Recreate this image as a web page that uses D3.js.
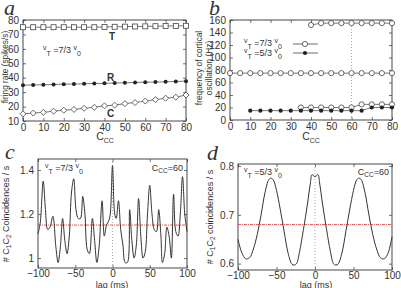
<!DOCTYPE html>
<html><head><meta charset="utf-8">
<script src="https://cdn.jsdelivr.net/npm/d3@7"></script>
<style>body{margin:0;background:#fff}svg{display:block}text{font-family:"Liberation Sans",Arial,sans-serif;fill:#333}</style>
</head><body><svg id="c" width="401" height="288"></svg>
<script>
// ---------- DATA ----------
const cccA = [0,5,10,15,20,25,30,35,40,45,50,55,60,65,70,75,80];
const rateT = [75,75,75,75,75,75,75,75,75.2,75.3,75.4,75.5,75.6,75.7,75.8,75.9,76];
const rateR = [34.8,35,35.1,35.3,35.5,35.6,35.8,36,36.1,36.3,36.5,36.7,36.9,37,37.2,37.4,37.6];
const rateC = [15,15.5,16,16.8,17.5,18,18.8,19.5,20.5,21,22,22.8,23.8,24.8,25.8,26.5,28];

const cccHigh = [40,45,50,55,60,65,70,75,80];
const freqHigh73 = [152,155,155,155,155,155,155,155,155];
const cccMid = [0,5,10,15,20,25,30,35,40,45,50,55,60,65,70,75,80];
const freqMid73 = [75,75,75,75,75,75,75,75,75,75,75,75,75,75,75,75,75];
const cccLow73 = [35,40,45,50,55,60,65,70,75,80];
const freqLow73 = [20,20,20,20,20,20,25,25,25,25];
const cccLow53 = [10,15,20,25,30,35,40,45,50,55,60,65,70,75,80];
const freqLow53 = [15,15,15,15,15,15,15,15,15,15,15,15,20,20,20];

const lagC = [-100,-97,-93,-90,-87,-84,-80,-76,-73,-70,-67,-64,-61,-58,-55,-52,-49,-46,-43,-40,-37,-34,-31,-27,-24,-21,-18,-14,-11,-8,-5,-3,0,3,5,8,11,14,17,20,23,26,29,32,35,38,41,44,47,50,53,56,59,62,65,67,70,73,76,79,82,85,88,91,94,97,100];
const coinC = [1.11,1.16,1.35,1.22,1.13,1.14,1.19,1.05,0.98,1.05,1.18,1.08,1.02,1.1,1.3,1.36,1.22,1.18,1.18,1.28,1.2,1.04,1.02,1.18,1.08,0.98,1.05,1.26,1.1,1.15,1.17,1.2,1.42,1.2,1.18,1.26,1.13,1.06,0.98,0.98,1.22,1.08,1.0,1.06,1.27,1.1,1.0,1.03,1.2,1.33,1.2,1.13,1.12,1.22,1.1,0.98,1.02,1.14,1.1,1.0,1.29,1.12,1.1,1.2,1.37,1.2,1.12];
const meanC = 1.15;

const lagD = [-100,-95,-90,-85,-80,-75,-70,-65,-60,-57,-54,-50,-45,-40,-35,-30,-27,-24,-20,-15,-10,-6,-4,-2,0,2,4,6,10,15,20,24,27,30,35,40,45,50,54,57,60,65,70,75,80,85,90,95,100];
const coinD = [0.650,0.622,0.610,0.612,0.630,0.660,0.700,0.745,0.772,0.775,0.771,0.750,0.710,0.665,0.622,0.599,0.597,0.600,0.625,0.670,0.720,0.765,0.782,0.781,0.777,0.781,0.782,0.765,0.720,0.670,0.625,0.600,0.597,0.599,0.622,0.665,0.710,0.750,0.771,0.775,0.772,0.745,0.700,0.660,0.630,0.612,0.610,0.622,0.655];
const meanD = 0.68;

const ticksA_x = [0,10,20,30,40,50,60,70,80];
const ticksA_y = [10,20,30,40,50,60,70,80];
const ticksB_y = [0,20,40,60,80,100,120,140,160];
const ticksC_x = [-100,-50,0,50,100];
const ticksC_y = [1,1.2,1.4];
const ticksD_y = [0.6,0.7,0.8];

// ---------- DRAW ----------
const svg = d3.select("#c");
svg.append("rect").attr("width",401).attr("height",288).attr("fill","#fff");
const ink = "#333";

function frame(x, y, xt, yt, yfmt, xpad){
  const g = svg.append("g");
  const [x0,x1] = x.range(), [y0,y1] = y.range();
  const ax = (sel)=>{ sel.select(".domain").remove(); sel.selectAll("line").attr("stroke",ink).attr("stroke-width",0.7); sel.selectAll("text").style("font-size","10px").attr("fill",ink); };
  g.append("g").attr("transform",`translate(0,${y0})`).call(d3.axisBottom(x).tickValues(xt).tickSize(-3).tickPadding(xpad||3).tickFormat(d3.format("d"))).call(ax);
  g.append("g").attr("transform",`translate(0,${y1})`).call(d3.axisTop(x).tickValues(xt).tickSize(-3).tickFormat("")).call(ax);
  g.append("g").attr("transform",`translate(${x0},0)`).call(d3.axisLeft(y).tickValues(yt).tickSize(-3).tickPadding(4).tickFormat(yfmt||d3.format("d"))).call(ax);
  g.append("g").attr("transform",`translate(${x1},0)`).call(d3.axisRight(y).tickValues(yt).tickSize(-3).tickFormat("")).call(ax);
  g.append("rect").attr("x",x0).attr("y",y1).attr("width",x1-x0).attr("height",y0-y1).attr("fill","none").attr("stroke",ink).attr("stroke-width",0.9);
  return g;
}
function letter(t,x,y){ svg.append("text").attr("x",x).attr("y",y).text(t).style("font-family","'Liberation Serif','DejaVu Serif',serif").style("font-style","italic").style("font-size","22px").attr("fill","#222"); }
function vlabel(x,y,frac,size){
  const t = svg.append("text").attr("x",x).attr("y",y).style("font-size",(size||9)+"px");
  t.append("tspan").text("v").style("font-size","7px").attr("dy",-3);
  t.append("tspan").text("T").style("font-size","7px").attr("dy",6);
  t.append("tspan").text(" ="+frac+" ").attr("dy",-3);
  t.append("tspan").text("v").style("font-size","7px").attr("dy",-3);
  t.append("tspan").text("0").style("font-size","7px").attr("dy",6);
  return t;
}
function ccc(x,y){
  const t = svg.append("text").attr("x",x).attr("y",y).attr("text-anchor","middle").style("font-size","10.5px");
  t.append("tspan").text("C");
  t.append("tspan").text("CC").style("font-size","7px").attr("dy",3);
}
function ylab(x,y,parts,size){
  const t = svg.append("text").attr("transform",`translate(${x},${y}) rotate(-90)`).attr("text-anchor","middle").style("font-size",(size||9)+"px");
  parts.forEach(p=>{ const s=t.append("tspan").text(p[0]); if(p[1]!==undefined){s.style("font-size","6.5px").attr("dy",p[1]);} });
  return t;
}

// ===== Panel a =====
const xa = d3.scaleLinear().domain([0,80]).range([23,186]);
const ya = d3.scaleLinear().domain([10,80]).range([121,20]);
frame(xa,ya,ticksA_x,ticksA_y);
const lineA = (vals)=> d3.line().x((d,i)=>xa(cccA[i])).y(d=>ya(d))(vals);
[rateT,rateR,rateC].forEach(v=> svg.append("path").attr("d",lineA(v)).attr("fill","none").attr("stroke","#555").attr("stroke-width",0.8));
svg.append("g").selectAll("rect").data(rateT).join("rect").attr("x",(d,i)=>xa(cccA[i])-2.5).attr("y",d=>ya(d)-2.5).attr("width",5).attr("height",5).attr("fill","#fff").attr("stroke","#444").attr("stroke-width",0.8);
svg.append("g").selectAll("circle").data(rateR).join("circle").attr("cx",(d,i)=>xa(cccA[i])).attr("cy",d=>ya(d)).attr("r",2).attr("fill","#222");
svg.append("g").selectAll("path").data(rateC).join("path").attr("d",(d,i)=>{const cx=xa(cccA[i]),cy=ya(d);return `M${cx},${cy-3}L${cx+3},${cy}L${cx},${cy+3}L${cx-3},${cy}Z`;}).attr("fill","#fff").attr("stroke","#444").attr("stroke-width",0.8);
svg.append("text").attr("x",109).attr("y",40).text("T").style("font-size","10px").style("font-weight","bold").attr("fill","#222");
svg.append("text").attr("x",107).attr("y",81).text("R").style("font-size","10px").style("font-weight","bold").attr("fill","#222");
svg.append("text").attr("x",107).attr("y",117).text("C").style("font-size","10px").style("font-weight","bold").attr("fill","#222");
vlabel(43,53,"7/3");
ylab(8,67,[["firing rate (spikes/s)"]],8.3);
ccc(105,140);
letter("a",4,15);

// ===== Panel b =====
const xb = d3.scaleLinear().domain([0,80]).range([230,392]);
const yb = d3.scaleLinear().domain([0,160]).range([120,20]);
frame(xb,yb,ticksA_x,ticksB_y);
svg.append("line").attr("x1",xb(60)).attr("x2",xb(60)).attr("y1",yb(160)).attr("y2",yb(0)).attr("stroke","#8a9a8a").attr("stroke-width",0.8).attr("stroke-dasharray","1,2");
const lineB = (xs,vs)=> d3.line().x((d,i)=>xb(xs[i])).y(d=>yb(d))(vs);
[[cccHigh,freqHigh73],[cccMid,freqMid73],[cccLow73,freqLow73],[cccLow53,freqLow53]].forEach(([xs,vs])=> svg.append("path").attr("d",lineB(xs,vs)).attr("fill","none").attr("stroke","#555").attr("stroke-width",0.8));
[[cccHigh,freqHigh73],[cccMid,freqMid73],[cccLow73,freqLow73]].forEach(([xs,vs])=> svg.append("g").selectAll("circle").data(vs).join("circle").attr("cx",(d,i)=>xb(xs[i])).attr("cy",d=>yb(d)).attr("r",2.6).attr("fill","#fff").attr("stroke","#444").attr("stroke-width",0.8));
svg.append("g").selectAll("circle").data(freqLow53).join("circle").attr("cx",(d,i)=>xb(cccLow53[i])).attr("cy",d=>yb(d)).attr("r",2.1).attr("fill","#222");
// legend
vlabel(244,46,"7/3");
vlabel(244,56,"5/3");
svg.append("line").attr("x1",293).attr("x2",318).attr("y1",44).attr("y2",44).attr("stroke","#444").attr("stroke-width",0.8);
svg.append("circle").attr("cx",305).attr("cy",44).attr("r",2.6).attr("fill","#fff").attr("stroke","#444").attr("stroke-width",0.8);
svg.append("line").attr("x1",293).attr("x2",318).attr("y1",53).attr("y2",53).attr("stroke","#444").attr("stroke-width",0.8);
svg.append("circle").attr("cx",305).attr("cy",53).attr("r",2.1).attr("fill","#222");
ylab(202,68,[["frequency of cortical"]],8.3);
ylab(212,68,[["oscillation (Hz)"]],8.3);
ccc(311,140);
letter("b",209,15);

// ===== Panel c =====
const xc = d3.scaleLinear().domain([-100,100]).range([38,187]);
const yc = d3.scaleLinear().domain([0.955,1.45]).range([268,159]);
frame(xc,yc,ticksC_x,ticksC_y,d3.format("~g"),2);
svg.append("line").attr("x1",xc(0)).attr("x2",xc(0)).attr("y1",yc(1.45)).attr("y2",yc(0.955)).attr("stroke","#8a9a8a").attr("stroke-width",0.8).attr("stroke-dasharray","1,2");
svg.append("line").attr("x1",xc(-100)).attr("x2",xc(100)).attr("y1",yc(meanC)).attr("y2",yc(meanC)).attr("stroke","#e03030").attr("stroke-width",0.8).attr("stroke-dasharray","3,1,1,1");
svg.append("path").attr("d",d3.line().curve(d3.curveCatmullRom).x((d,i)=>xc(lagC[i])).y(d=>yc(d))(coinC)).attr("fill","none").attr("stroke","#333").attr("stroke-width",1);
vlabel(45,171,"7/3");
{const t=svg.append("text").attr("x",183).attr("y",171).attr("text-anchor","end").style("font-size","9px");t.append("tspan").text("C");t.append("tspan").text("CC").style("font-size","6.5px").attr("dy",2);t.append("tspan").text("=60").attr("dy",-2);}
ylab(9,214,[["# C"],["1",2],["C",-2],["2",2],[" Coincidences / s",-2]]).selectAll("tspan").filter((d,i)=>i===2||i===4).style("font-size","9px");
svg.append("text").attr("x",112).attr("y",287.5).attr("text-anchor","middle").text("lag (ms)").style("font-size","9px");
letter("c",5,159);

// ===== Panel d =====
const xd = d3.scaleLinear().domain([-100,100]).range([238,392]);
const yd = d3.scaleLinear().domain([0.587,0.804]).range([270,164]);
frame(xd,yd,ticksC_x,ticksD_y,d3.format(".1f"),1.5);
svg.append("line").attr("x1",xd(0)).attr("x2",xd(0)).attr("y1",yd(0.804)).attr("y2",yd(0.587)).attr("stroke","#8a9a8a").attr("stroke-width",0.8).attr("stroke-dasharray","1,2");
svg.append("line").attr("x1",xd(-100)).attr("x2",xd(100)).attr("y1",yd(meanD)).attr("y2",yd(meanD)).attr("stroke","#e03030").attr("stroke-width",0.8).attr("stroke-dasharray","3,1,1,1");
svg.append("path").attr("d",d3.line().curve(d3.curveCatmullRom).x((d,i)=>xd(lagD[i])).y(d=>yd(d))(coinD)).attr("fill","none").attr("stroke","#333").attr("stroke-width",1);
vlabel(244,175,"5/3");
{const t=svg.append("text").attr("x",389).attr("y",175).attr("text-anchor","end").style("font-size","9px");t.append("tspan").text("C");t.append("tspan").text("CC").style("font-size","6.5px").attr("dy",2);t.append("tspan").text("=60").attr("dy",-2);}
ylab(213,217,[["# C"],["1",2],["C",-2],["2",2],[" coincidences / s",-2]]).selectAll("tspan").filter((d,i)=>i===2||i===4).style("font-size","9px");
svg.append("text").attr("x",316).attr("y",287.5).attr("text-anchor","middle").text("lag (ms)").style("font-size","9px");
letter("d",207,160);
</script></body></html>
